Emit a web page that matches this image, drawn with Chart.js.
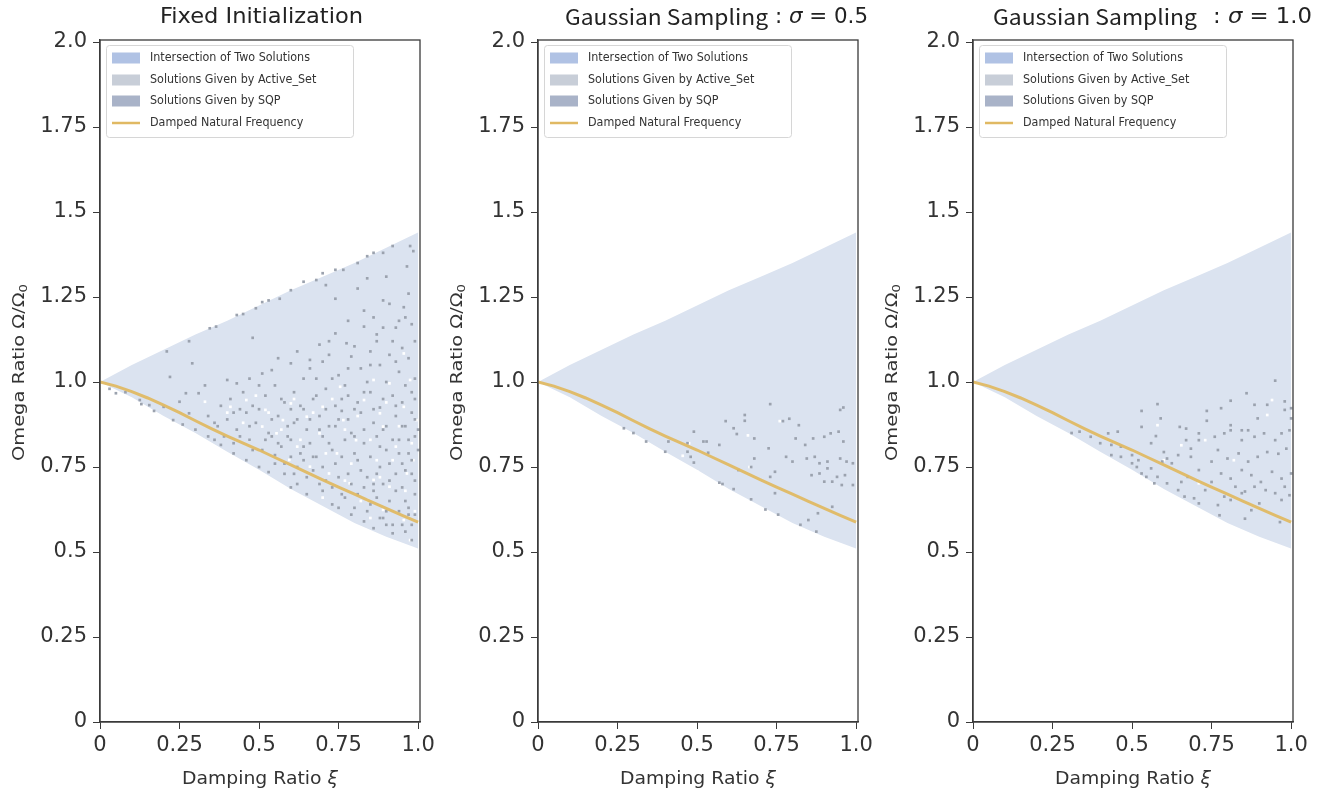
<!DOCTYPE html>
<html>
<head>
<meta charset="utf-8">
<script src="https://cdn.jsdelivr.net/npm/chart.js@4.4.1/dist/chart.umd.min.js"></script>
<style>
  body { margin: 0; background: #fff; width: 1333px; height: 797px; overflow: hidden; position: relative; }
  canvas { position: absolute; top: 0; }
</style>
</head>
<body>
<canvas id="c1" width="440" height="797" style="left:0px"></canvas>
<canvas id="c2" width="440" height="797" style="left:438px"></canvas>
<canvas id="c3" width="460" height="797" style="left:873px"></canvas>
<script>
// axis ticks
const xTicks = [0, 0.25, 0.5, 0.75, 1.0];
const yTicks = [0, 0.25, 0.5, 0.75, 1.0, 1.25, 1.5, 1.75, 2.0];

// feasible wedge (intersection region)
const edgeXi    = [0, 0.1, 0.2, 0.3, 0.4, 0.5, 0.6, 0.7, 0.8, 0.9, 1.0];
const upperEdge = [1.0, 1.05, 1.095, 1.14, 1.18, 1.225, 1.27, 1.31, 1.35, 1.395, 1.44];
const lowerEdge = [1.0, 0.955, 0.90, 0.85, 0.795, 0.742, 0.685, 0.635, 0.585, 0.545, 0.51];

// damped natural frequency curve
const curveXi    = [0, 0.05, 0.1, 0.15, 0.2, 0.25, 0.3, 0.35, 0.4, 0.45, 0.5, 0.55, 0.6, 0.65, 0.7, 0.75, 0.8, 0.85, 0.9, 0.95, 1.0];
const dampedFreq = [1.0, 0.988, 0.972, 0.953, 0.932, 0.91, 0.886, 0.863, 0.841, 0.82, 0.80, 0.778, 0.756, 0.734, 0.712, 0.691, 0.67, 0.649, 0.628, 0.608, 0.588];

// solver points (xi, omega pairs)
const dotsFixed = [
  .89,1.38, .92,1.40, .975,1.40, .84,1.37, .86,1.38, .81,1.35, .765,1.33, .74,1.33, .70,1.32, .68,1.30,
  .71,1.285, .64,1.295, .60,1.27, .565,1.245, .53,1.24, .51,1.235, .49,1.217, .45,1.20, .43,1.197, .365,1.163,
  .345,1.158, .28,1.12, .21,1.09, .22,1.015, .29,1.055, .48,1.13, .74,1.245, .81,1.275, .84,1.305, .90,1.31,
  .965,1.34, .985,1.385, .955,1.22, .94,1.18, .89,1.16, .83,1.163, .74,1.143, .775,1.114, .72,1.08, .66,1.065,
  .60,1.055, .54,1.035, .51,1.025, .47,1.01, .43,.996, .40,1.006, .33,.99, .31,.967, .27,.967, .25,.942,
  .28,.908, .23,.888, .20,.927, .155,.932, .125,.947, .08,.97, .05,.967, .03,.98,
  .72,1.12, .78,1.18, .83,1.21, .87,1.14, .91,1.23, .95,1.10, .98,1.17, .93,1.16, .86,1.19, .80,1.105, .97,1.26, .89,1.24,
  .56,1.07, .62,1.09, .66,1.04, .70,1.06, .75,1.02, .79,1.075, .82,1.04, .85,1.09, .88,1.05, .91,1.08,
  .94,1.03, .97,1.07, .99,1.01, .90,1.00, .84,1.00, .77,.99, .68,1.01,
  .41,.95, .45,.97, .48,.93, .52,.96, .55,.99, .58,.94, .61,.97, .64,.92, .67,.95, .71,.98,
  .74,.93, .78,.96, .81,.94, .85,.97, .88,.925, .92,.96, .95,.94, .98,.97, .60,.92, .50,.99,
  .34,.90, .37,.87, .40,.89, .43,.86, .46,.91, .49,.88, .53,.85, .56,.90, .59,.87, .62,.89,
  .65,.86, .69,.90, .72,.87, .75,.89, .79,.85, .82,.91, .86,.88, .89,.86, .93,.90, .96,.87, .99,.89, .44,.92, .76,.915,
  .39,.84, .42,.82, .47,.83, .51,.80, .54,.84, .57,.81, .60,.83, .63,.79, .66,.82, .70,.84,
  .73,.80, .77,.83, .80,.79, .83,.82, .87,.84, .90,.80, .94,.83, .97,.79, .99,.84, .55,.785, .68,.78,
  .46,.77, .50,.75, .53,.735, .58,.76, .61,.73, .64,.77, .67,.74, .71,.71, .74,.76, .78,.73,
  .81,.77, .84,.72, .88,.75, .91,.71, .95,.76, .98,.73, .62,.70, .86,.70,
  .60,.69, .65,.67, .70,.68, .73,.64, .76,.67, .80,.63, .83,.69, .87,.66, .90,.62, .93,.68, .96,.65, .99,.67, .75,.63, .85,.64,
  .79,.61, .83,.59, .86,.57, .89,.60, .92,.555, .95,.58, .98,.535, .97,.61, .90,.58,
  .13,.935, .17,.915, .26,.875, .30,.86, .34,.84, .36,.83, .38,.815, .42,.79,
  .36,.88, .38,.93, .42,.91, .44,.84, .47,.87, .48,.80, .50,.92, .52,.83, .54,.89, .55,.76,
  .56,.82, .57,.95, .58,.73, .59,.84, .60,.78, .61,.88, .62,.75, .63,.93, .64,.81, .65,.72,
  .66,.89, .67,.78, .68,.96, .69,.70, .69,.86, .70,.75, .71,.92, .72,.82, .73,.69, .74,.87,
  .75,.72, .76,.95, .76,.78, .77,.66, .78,.89, .79,.70, .80,.84, .80,.92, .81,.67, .82,.74,
  .83,.97, .83,.86, .84,.62, .85,.78, .86,.92, .86,.68, .87,.73, .88,.81, .88,.60, .89,.95,
  .89,.70, .90,.87, .91,.65, .91,.76, .92,.83, .92,.58, .93,.73, .93,.93, .94,.62, .94,.79,
  .95,.87, .95,.69, .96,.56, .96,.74, .96,.99, .97,.83, .97,.63, .98,.77, .98,.91, .98,.58,
  .99,.71, .99,.95, .99,.61, 1.0,.80, 1.0,.86, .85,1.05, .87,1.12, .92,1.12, .96,1.19, .99,1.12,
  .93,1.06, .78,1.04, .73,1.01, .64,1.01, .69,1.11
];
const gapsFixed = [
  .33,.942, .41,.927, .46,.947, .52,.918, .60,.937, .65,.898, .70,.927, .765,.888, .83,.947, .88,.908,
  .955,.927, .995,.888, .555,.849, .62,.81, .69,.849, .745,.79, .805,.829, .87,.77, .93,.81, .985,.77,
  .51,.869, .47,.829, .66,.751, .72,.731, .785,.702, .86,.712, .91,.692, .965,.731, .89,.624, .955,.594,
  .975,.535, .84,.653, .595,.771, .91,.996, .86,1.006, .955,1.084, .975,1.006, .755,.986, .89,.869, .575,.888,
  .40,.91, .45,.88, .49,.96, .53,.91, .57,.86, .61,.95, .63,.83, .67,.91, .71,.79, .73,.95,
  .77,.86, .79,.76, .81,.90, .85,.83, .88,.72, .90,.94, .92,.77, .94,.87, .96,.68, .98,.82,
  .99,.62, .85,.60, .82,.65, .77,.71, .70,.66
];
const dotsSigma05 = [
  .73,.935, .65,.903, .65,.886, .59,.885, .77,.885, .79,.892, .82,.873, .95,.918, .96,.925, .49,.854,
  .615,.864, .625,.847, .68,.834, .27,.864, .30,.85, .41,.825, .47,.82, .52,.825, .53,.825, .57,.815,
  .34,.825, .40,.795, .47,.795, .48,.78, .49,.763, .535,.792, .81,.834, .84,.815, .865,.834, .90,.839,
  .92,.849, .945,.854, .96,.825, .725,.805, .78,.78, .80,.766, .845,.775, .87,.78, .885,.761, .91,.766,
  .95,.775, .97,.766, .99,.761, .86,.726, .885,.731, .90,.707, .925,.707, .94,.721, .955,.697, .965,.726,
  .99,.697, .91,.746, .68,.775, .67,.75, .63,.741, .73,.721, .745,.736, .57,.704, .58,.70, .615,.685,
  .67,.655, .745,.673, .715,.625, .755,.61, .85,.594, .825,.58, .875,.56, .925,.633, .88,.614
];
const gapsSigma05 = [
  .76,.885, .66,.843, .475,.82, .455,.783, .50,.737, .665,.75
];
const dotsSigma10 = [
  .95,1.004, .86,.967, .81,.945, .58,.935, .53,.915, .59,.893, .735,.915, .78,.923, .885,.933, .925,.933,
  .98,.918, 1.0,.923, .735,.886, .81,.873, .65,.868, .67,.863, .53,.868, .575,.841, .56,.82, .455,.854,
  .425,.849, .37,.839, .335,.854, .31,.85, .40,.82, .435,.815, .465,.81, .50,.785, .52,.77, .515,.75,
  .53,.731, .56,.746, .58,.721, .57,.702, .60,.794, .61,.775, .645,.785, .685,.804, .71,.829, .71,.849,
  .76,.839, .79,.849, .81,.858, .845,.829, .865,.858, .885,.839, .915,.849, .95,.829, .97,.849, .995,.858,
  1.0,.893, .985,.804, .96,.789, .925,.794, .895,.78, .865,.766, .835,.79, .80,.775, .77,.80, .75,.766,
  .71,.741, .675,.721, .655,.706, .645,.682, .665,.663, .695,.658, .73,.682, .75,.706, .78,.731, .81,.716,
  .845,.741, .875,.726, .905,.706, .94,.736, .97,.716, 1.0,.731, .98,.692, .95,.673, .92,.682, .885,.692,
  .855,.678, .825,.692, .79,.663, .77,.638, .81,.653, .845,.673, .875,.623, .90,.643, .97,.653, .995,.667,
  .965,.588, .855,.598, .775,.608, .71,.643, .685,.78, .625,.761, .595,.766, .465,.78, .435,.785, .50,.761,
  .545,.721, .61,.702, .98,.943, .895,.893, .845,.858, .67,.829
];
const gapsSigma10 = [
  .58,.873, .655,.814, .73,.829, .82,.770, .94,.947, .925,.903, .60,.770, .71,.702
];

const legendLabels = ['Intersection of Two Solutions', 'Solutions Given by Active_Set', 'Solutions Given by SQP', 'Damped Natural Frequency'];
const legendColors = ['#b0c2e4', '#c8ced8', '#a9b3c8', '#e0b963'];

const wedgeColor = '#dbe3f0';
const dotColor = '#9ba2ae';
const frameColor = '#3a3a3a';

Chart.defaults.font.family = "'DejaVu Sans', sans-serif";
Chart.defaults.color = '#333';

function pairs(flat) {
  const out = [];
  for (let i = 0; i < flat.length; i += 2) out.push({ x: flat[i], y: flat[i + 1] });
  return out;
}
function zip(xs, ys) {
  return xs.map((x, i) => ({ x: x, y: ys[i] }));
}

// draw a run of text pieces squeezed to a given width
// piece: [text, italic, dy, size]
function fitText(ctx, parts, x, y, width, size, family) {
  const fontOf = p => (p[1] ? 'italic ' : '') + (p[3] || size) + 'px ' + family;
  ctx.save();
  let total = 0;
  parts.forEach(p => {
    ctx.font = fontOf(p);
    total += ctx.measureText(p[0]).width;
  });
  ctx.translate(x, y);
  ctx.scale(width / total, 1);
  ctx.textBaseline = 'middle';
  ctx.textAlign = 'left';
  let cx = 0;
  parts.forEach(p => {
    ctx.font = fontOf(p);
    ctx.fillText(p[0], cx, p[2] || 0);
    cx += ctx.measureText(p[0]).width;
  });
  ctx.restore();
}

const panels = [
  { id: 'c1', dots: dotsFixed, gaps: gapsFixed,
    title: [{ parts: [['Fixed Initialization']], dx: 60, w: 203, font: "'DejaVu Sans'" }] },
  { id: 'c2', dots: dotsSigma05, gaps: gapsSigma05,
    title: [{ parts: [['Gaussian Sampling']], dx: 27, w: 203, font: "'Noto Sans CJK KR'" },
            { parts: [[': '], ['σ', true], [' = 0.5']], dx: 237, w: 93, font: "'DejaVu Sans'" }] },
  { id: 'c3', dots: dotsSigma10, gaps: gapsSigma10,
    title: [{ parts: [['Gaussian Sampling']], dx: 20, w: 204, font: "'Noto Sans CJK KR'" },
            { parts: [[': '], ['σ', true], [' = 1.0']], dx: 240, w: 99, font: "'DejaVu Sans'" }] }
];

const decorations = {
  id: 'decorations',
  afterDraw(chart) {
    const ctx = chart.ctx;
    const a = chart.chartArea;
    const p = chart.options.plugins.decorations.panel;

    // full frame
    ctx.save();
    ctx.strokeStyle = frameColor;
    ctx.lineWidth = 1.3;
    ctx.strokeRect(a.left, a.top, a.right - a.left, a.bottom - a.top);
    ctx.restore();

    // titles
    ctx.fillStyle = '#222';
    p.title.forEach(t => fitText(ctx, t.parts, a.left + t.dx, 17.5, t.w, 21, t.font));

    // axis titles
    ctx.fillStyle = '#333';
    fitText(ctx, [['Damping Ratio '], ['ξ', true]], a.left + 82, 779, 156, 18, "'DejaVu Sans'");
    ctx.save();
    ctx.translate(a.left - 80, 373 + 88);
    ctx.rotate(-Math.PI / 2);
    fitText(ctx, [['Omega Ratio Ω/Ω'], ['0', false, 4, 11]], 0, 0, 177, 16, "'DejaVu Sans'");
    ctx.restore();

    // legend
    const lx = a.left + 6, ly = a.top + 5, lw = 247, lh = 92;
    ctx.save();
    ctx.fillStyle = 'rgba(255,255,255,0.9)';
    ctx.strokeStyle = '#d6d6d6';
    ctx.lineWidth = 1;
    ctx.beginPath();
    ctx.roundRect(lx + 0.5, ly + 0.5, lw, lh, 3);
    ctx.fill();
    ctx.stroke();
    const rows = [18, 40, 61, 83];
    legendLabels.forEach((label, i) => {
      const cy = a.top + rows[i];
      if (i < 3) {
        ctx.fillStyle = legendColors[i];
        ctx.fillRect(a.left + 12, cy - 5.5, 28, 11);
      } else {
        ctx.strokeStyle = legendColors[i];
        ctx.lineWidth = 2.5;
        ctx.beginPath();
        ctx.moveTo(a.left + 12, cy);
        ctx.lineTo(a.left + 40, cy);
        ctx.stroke();
      }
      ctx.fillStyle = '#333';
      ctx.font = "12px 'DejaVu Sans'";
      const w = ctx.measureText(label).width * 0.93;
      fitText(ctx, [[label]], a.left + 50, cy, w, 12, "'DejaVu Sans'");
    });
    ctx.restore();
  }
};

panels.forEach(p => {
  const canvas = document.getElementById(p.id);
  new Chart(canvas, {
    type: 'scatter',
    data: {
      datasets: [
        { data: zip(curveXi, dampedFreq), showLine: true, borderColor: 'rgba(224,185,99,0.95)', borderWidth: 3,
          pointRadius: 0, fill: false, order: 1 },
        { data: pairs(p.dots), pointStyle: 'rect', pointRadius: 1.9, backgroundColor: dotColor,
          borderWidth: 0, order: 3 },
        { data: pairs(p.gaps), pointStyle: 'rect', pointRadius: 1.9, backgroundColor: '#ffffff',
          borderWidth: 0, order: 4 },
        { data: zip(edgeXi, upperEdge), showLine: true, borderWidth: 0, pointRadius: 0,
          fill: '+1', backgroundColor: wedgeColor, order: 6 },
        { data: zip(edgeXi, lowerEdge), showLine: true, borderWidth: 0, pointRadius: 0,
          fill: false, order: 7 }
      ]
    },
    options: {
      responsive: false,
      animation: false,
      events: [],
      layout: { padding: { left: 0, top: 40, right: canvas.width - 420, bottom: 0 } },
      scales: {
        x: {
          type: 'linear', min: 0, max: 1.006,
          afterBuildTicks: s => { s.ticks = xTicks.map(v => ({ value: v })); },
          afterFit: s => { s.height = 75; },
          ticks: {
            font: { size: 21 }, color: '#333', padding: 4, maxRotation: 0,
            callback: v => v === 0 ? '0' : (v === 1 ? '1.0' : String(v))
          },
          grid: { drawOnChartArea: false, drawTicks: true, tickLength: 7, color: frameColor },
          border: { display: true, color: frameColor, width: 1.3 }
        },
        y: {
          type: 'linear', min: 0, max: 2.006,
          afterBuildTicks: s => { s.ticks = yTicks.map(v => ({ value: v })); },
          afterFit: s => { s.width = 100; },
          ticks: {
            font: { size: 21 }, color: '#333', padding: 6,
            callback: v => v === 0 ? '0' : (v === 1 ? '1.0' : (v === 2 ? '2.0' : String(v)))
          },
          grid: { drawOnChartArea: false, drawTicks: true, tickLength: 7, color: frameColor },
          border: { display: true, color: frameColor, width: 1.3 }
        }
      },
      plugins: {
        legend: { display: false },
        tooltip: { enabled: false },
        decorations: { panel: p }
      }
    },
    plugins: [decorations]
  });
});
</script>
</body>
</html>
